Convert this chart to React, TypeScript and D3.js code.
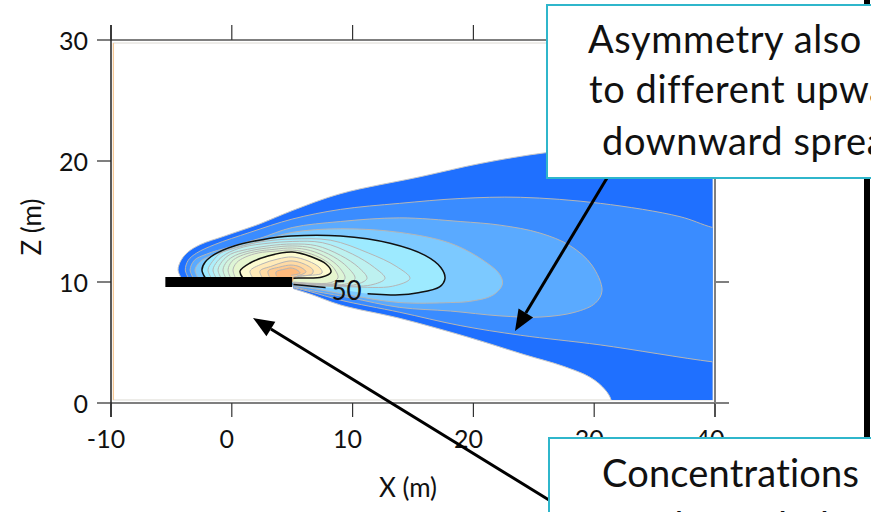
import React from 'react';
import * as d3 from 'd3';

const W = 871;
const H = 512;
const X_DOMAIN = [-10, 40];
const Z_DOMAIN = [0, 30];
const X_TICKS = [-10, 0, 10, 20, 30, 40];
const Z_TICKS = [0, 10, 20, 30];
const DATA_X = [-9.8, 39.8];
const DATA_Z = [0.25, 29.75];
const SOURCE_X = [-5.5, 5.0];
const SOURCE_Z = 10;
const LABEL_50 = { x: 9.5, z: 9.25, text: '50' };

type P = [number, number];

// Contour outlines (X m, Z m), outermost to innermost
const C1: P[] = [[-4.2,10.35],[-4.45,11.0],[-4.2,11.8],[-3.6,12.5],[-2.6,13.1],[-0.6,13.8],[2.3,14.8],[5.0,15.9],[9.0,17.3],[15.6,18.7],[20.6,19.8],[26.1,20.7],[32.1,21.2],[39.8,21.6],[44,21.7],[44,-1.5],[31.6,-1.5],[31.4,0.25],[30.9,1.1],[29.7,2.1],[27.4,3.05],[24.2,4.0],[19.7,5.4],[13.9,7.0],[9.0,8.1],[6.5,9.0],[5.1,9.45]];
const C2: P[] = [[-3.6,10.35],[-3.85,11.0],[-3.6,11.8],[-2.9,12.4],[-1.4,13.1],[1.5,14.1],[5.0,15.2],[9.0,16.0],[13.9,16.5],[18.9,16.9],[23.9,17.0],[30.5,16.5],[37.1,15.4],[39.8,14.5],[44,13.6],[44,3.0],[39.8,3.4],[30.5,4.8],[23.9,5.6],[18.9,6.4],[13.9,7.5],[9.0,8.5],[6.5,9.2],[5.1,9.55]];
const C3: P[] = [[-3.2,10.35],[-3.45,11.0],[-3.1,11.8],[-2.1,12.3],[-0.15,12.9],[2.3,13.6],[5.0,14.5],[9.0,15.0],[13.9,15.3],[18.9,15.0],[22.2,14.7],[25.5,14.05],[28.0,13.0],[29.8,11.4],[30.65,9.3],[30.1,8.26],[28.4,7.5],[25.5,7.1],[22.2,7.2],[18.1,7.6],[13.9,7.9],[9.8,8.7],[6.5,9.3],[5.1,9.6]];
const C4: P[] = [[-2.8,10.35],[-3.05,11.0],[-2.6,11.7],[-1.6,12.2],[0.26,12.8],[2.5,13.4],[5.0,14.1],[9.0,14.4],[13.9,14.1],[18.1,13.2],[20.8,11.8],[22.2,10.6],[22.4,9.8],[21.6,8.9],[19.7,8.4],[18.1,8.3],[13.9,8.3],[9.8,8.9],[6.5,9.5],[5.1,9.7]];
const C5: P[] = [[-2.2,10.35],[-2.47,11.0],[-2.2,11.65],[-1.4,12.3],[0.26,13.0],[2.5,13.5],[4.9,13.8],[9.0,13.8],[13.1,13.2],[16.0,12.2],[17.3,11.2],[17.65,10.3],[17.2,9.6],[15.3,9.1],[13.9,8.95],[11.6,9.0],[8.1,9.5],[5.1,9.8]];
const C6: P[] = [[-1.7,10.35],[-1.97,11.0],[-1.6,11.7],[-0.9,12.4],[0.8,13.0],[3.0,13.4],[5.0,13.55],[8.2,13.45],[11.3,12.4],[13.6,11.3],[14.75,10.3],[13.3,9.65],[9.9,9.6],[7.0,9.7],[5.1,9.85]];
const C7: P[] = [[-1.3,10.35],[-1.56,11.0],[-1.2,11.7],[-0.5,12.3],[1.0,12.9],[3.0,13.2],[5.0,13.35],[7.5,13.25],[10.0,12.3],[11.8,11.2],[12.68,10.3],[11.5,9.75],[8.8,9.7],[6.5,9.8],[5.1,9.9]];
const C8: P[] = [[-0.9,10.35],[-1.14,11.0],[-0.8,11.7],[-0.1,12.3],[1.3,12.7],[3.1,13.0],[5.0,13.14],[7.0,13.0],[9.0,12.2],[10.5,11.2],[11.19,10.3],[10.3,9.8],[8.1,9.75],[6.2,9.85],[5.1,9.9]];
const C9: P[] = [[-0.5,10.35],[-0.73,11.0],[-0.4,11.7],[0.3,12.2],[1.6,12.6],[3.3,12.85],[5.0,12.98],[6.7,12.8],[8.4,12.1],[9.6,11.2],[10.2,10.3],[9.5,9.85],[7.6,9.8],[5.1,9.95]];
const C10: P[] = [[-0.1,10.35],[-0.31,11.0],[0.0,11.7],[0.7,12.15],[1.9,12.5],[3.5,12.7],[5.0,12.81],[6.5,12.6],[7.9,12.0],[8.9,11.2],[9.37,10.3],[8.7,9.9],[7.0,9.85],[5.1,9.95]];
const C11: P[] = [[0.3,10.35],[0.1,11.0],[0.4,11.6],[1.1,12.05],[2.2,12.4],[3.6,12.55],[5.0,12.64],[6.3,12.4],[7.5,11.9],[8.4,11.2],[8.79,10.35],[8.2,9.95],[6.6,9.9],[5.1,10.0]];
const C12: P[] = [[0.9,10.35],[0.68,10.9],[1.51,11.57],[3.0,12.15],[4.99,12.48],[6.64,12.07],[7.8,11.49],[8.21,10.83],[7.47,10.41],[5.65,10.33],[5.1,10.3]];
const C13: P[] = [[1.7,10.4],[1.51,10.91],[2.5,11.49],[3.82,11.9],[4.99,12.07],[6.31,11.74],[7.3,11.16],[7.47,10.74],[5.65,10.5],[5.1,10.4]];
const C14: P[] = [[2.5,10.4],[2.33,10.91],[3.33,11.32],[4.32,11.65],[4.99,11.74],[5.98,11.49],[6.72,10.99],[6.64,10.66],[5.23,10.45]];
const C15: P[] = [[3.1,10.45],[3.0,10.91],[3.99,11.24],[4.9,11.4],[5.65,11.24],[6.14,10.83],[5.4,10.5]];
const C16: P[] = [[3.7,10.5],[3.66,10.83],[4.4,11.07],[4.9,11.16],[5.4,10.99],[5.65,10.74],[4.9,10.55]];

const CONTOURS: P[][] = [C1, C2, C3, C4, C5, C6, C7, C8, C9, C10, C11, C12, C13, C14, C15, C16];
const LEVEL_COLORS = ['#1f70ff', '#3a8cff', '#5aaaff', '#7cc9ff', '#9deaff', '#aeeefa', '#bdf1f0', '#c9f3e6', '#d3f4dd', '#ddf5d6', '#e6f6cf', '#fdfbd0', '#ffeab8', '#ffdaa4', '#ffca90', '#ffba7c'];
const BLACK_LEVELS = [4, 11];

const CALLOUT_TOP = ['Asymmetry also due', 'to different upward and', 'downward spreading'];
const CALLOUT_BOTTOM = ['Concentrations', 'are lower below the'];

function arrowHead(x1: number, y1: number, x2: number, y2: number, len: number, hw: number) {
  const a = Math.atan2(y2 - y1, x2 - x1);
  const bx = x2 - len * Math.cos(a);
  const by = y2 - len * Math.sin(a);
  const px = -Math.sin(a) * hw;
  const py = Math.cos(a) * hw;
  return { pts: `${x2},${y2} ${bx + px},${by + py} ${bx - px},${by - py}`, bx, by };
}

export default function App() {
  const x = d3.scaleLinear().domain(X_DOMAIN).range([111, 715]);
  const y = d3.scaleLinear().domain(Z_DOMAIN).range([403, 40]);
  const line = d3
    .line<P>()
    .x((d) => x(d[0]))
    .y((d) => y(d[1]))
    .curve(d3.curveCatmullRom.alpha(0.5));

  const fillPath = (pts: P[]) =>
    `${line(pts)}L${x(SOURCE_X[1])},${y(SOURCE_Z)}L${x(pts[0][0])},${y(SOURCE_Z)}Z`;

  const font = 'Lato, "Open Sans", sans-serif';
  const gray = '#7f7f7f';

  const a1 = { x1: 607, y1: 178, x2: 515, y2: 331 };
  const a2 = { x1: 549, y1: 500, x2: 253, y2: 318 };
  const h1 = arrowHead(a1.x1, a1.y1, a1.x2, a1.y2, 21, 8.5);
  const h2 = arrowHead(a2.x1, a2.y1, a2.x2, a2.y2, 21, 8.5);

  const lx = x(LABEL_50.x);
  const ly = y(LABEL_50.z);

  return (
    <svg
      width={W}
      height={H}
      style={{ position: 'absolute', left: 0, top: 0, background: '#fff' }}
      fontFamily={font}
    >
      <defs>
        <clipPath id="dataClip">
          <rect
            x={x(DATA_X[0])}
            y={y(DATA_Z[1])}
            width={x(DATA_X[1]) - x(DATA_X[0])}
            height={y(DATA_Z[0]) - y(DATA_Z[1])}
          />
        </clipPath>
        <mask id="labelGap">
          <rect x={0} y={0} width={W} height={H} fill="#fff" />
          <rect x={lx - 21} y={ly - 12} width={42} height={24} fill="#000" />
        </mask>
      </defs>

      {/* data area frame */}
      <rect
        x={x(DATA_X[0])}
        y={y(DATA_Z[1])}
        width={x(DATA_X[1]) - x(DATA_X[0])}
        height={y(DATA_Z[0]) - y(DATA_Z[1])}
        fill="#fff"
        stroke="#e2e0da"
        strokeWidth={1.2}
      />
      <line x1={x(DATA_X[0])} x2={x(DATA_X[0])} y1={y(DATA_Z[1])} y2={y(DATA_Z[0])} stroke="#f6c895" strokeWidth={1.2} />

      <g clipPath="url(#dataClip)">
        {CONTOURS.map((pts, i) => (
          <path key={'f' + i} d={fillPath(pts)} fill={LEVEL_COLORS[i]} stroke="none" />
        ))}
        {CONTOURS.map((pts, i) =>
          BLACK_LEVELS.includes(i) ? null : (
            <path key={'s' + i} d={line(pts) || ''} fill="none" stroke={i === 0 ? '#c9c9c9' : '#b5b5b5'} strokeWidth={1} />
          )
        )}
        {BLACK_LEVELS.map((i) => (
          <path
            key={'b' + i}
            d={line(CONTOURS[i]) || ''}
            fill="none"
            stroke="#111"
            strokeWidth={1.5}
            mask={i === 4 ? 'url(#labelGap)' : undefined}
          />
        ))}
      </g>

      {/* source */}
      <rect
        x={x(SOURCE_X[0])}
        y={y(SOURCE_Z) - 5}
        width={x(SOURCE_X[1]) - x(SOURCE_X[0])}
        height={10}
        fill="#000"
      />
      <text x={lx} y={ly} dy="0.36em" textAnchor="middle" fontSize={26} fill="#111">
        {LABEL_50.text}
      </text>

      {/* axes */}
      <line x1={97} x2={729} y1={y(0)} y2={y(0)} stroke={gray} strokeWidth={2} />
      <line x1={97} x2={729} y1={y(30)} y2={y(30)} stroke={gray} strokeWidth={2} />
      <line x1={x(40)} x2={x(40)} y1={25} y2={417} stroke={gray} strokeWidth={2} />
      {X_TICKS.map((t) => (
        <g key={'xt' + t}>
          <line x1={x(t)} x2={x(t)} y1={y(0)} y2={417} stroke="#333" strokeWidth={1.2} />
          <line x1={x(t)} x2={x(t)} y1={y(30)} y2={25} stroke="#333" strokeWidth={1.2} />
          <text x={x(t) - 5} y={448} textAnchor="middle" fontSize={25} fill="#111">
            {t}
          </text>
        </g>
      ))}
      {Z_TICKS.map((t) => (
        <g key={'zt' + t}>
          <line x1={97} x2={111} y1={y(t)} y2={y(t)} stroke={gray} strokeWidth={2} />
          <line x1={715} x2={729} y1={y(t)} y2={y(t)} stroke={gray} strokeWidth={2} />
          <text x={88} y={y(t)} dy="0.38em" textAnchor="end" fontSize={25} fill="#111">
            {t}
          </text>
        </g>
      ))}
      <line x1={x(-10)} x2={x(-10)} y1={25} y2={417} stroke="#222" strokeWidth={1.5} />

      <text x={408} y={497} textAnchor="middle" fontSize={26} fill="#111">
        X (m)
      </text>
      <text transform="translate(32,227) rotate(-90)" textAnchor="middle" dy="0.35em" fontSize={26} fill="#111">
        Z (m)
      </text>

      {/* arrows */}
      <line x1={a1.x1} y1={a1.y1} x2={h1.bx} y2={h1.by} stroke="#000" strokeWidth={3} />
      <polygon points={h1.pts} fill="#000" />
      <line x1={a2.x1} y1={a2.y1} x2={h2.bx} y2={h2.by} stroke="#000" strokeWidth={3} />
      <polygon points={h2.pts} fill="#000" />

      {/* right black bar */}
      <rect x={864} y={0} width={6} height={H} fill="#000" />

      {/* callouts */}
      <rect x={547} y={5} width={420} height={173} fill="#fff" stroke="#2fb6cb" strokeWidth={2} />
      <text fontSize={38} fill="#111" letterSpacing={0.6}>
        <tspan x={588} y={53}>{CALLOUT_TOP[0]}</tspan>
        <tspan x={589} y={103}>{CALLOUT_TOP[1]}</tspan>
        <tspan x={602} y={155}>{CALLOUT_TOP[2]}</tspan>
      </text>
      <rect x={549} y={438} width={420} height={200} fill="#fff" stroke="#2fb6cb" strokeWidth={2} />
      <text fontSize={38} fill="#111" letterSpacing={0.2}>
        <tspan x={602} y={487}>{CALLOUT_BOTTOM[0]}</tspan>
        <tspan x={612} y={540}>{CALLOUT_BOTTOM[1]}</tspan>
      </text>
    </svg>
  );
}
